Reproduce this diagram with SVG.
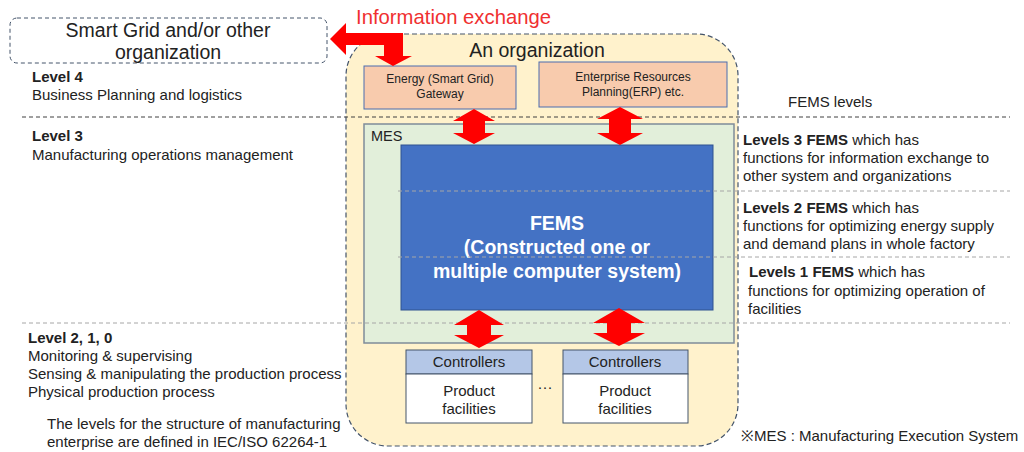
<svg xmlns="http://www.w3.org/2000/svg" width="1024" height="452" viewBox="0 0 1024 452">
  <style>
    text { font-family: "Liberation Sans", Arial, sans-serif; fill: #222; }
    .b { font-weight: bold; }
    .lvl { font-size: 15px; }
    .sep { fill: none; stroke-width: 1; stroke-dasharray: 4 3; }
    .red { fill: #ff0000; stroke: none; }
    .small { font-size: 12px; }
    .ctl { font-size: 15px; }
  </style>

  <!-- external party -->
  <g id="smart-grid">
    <rect x="10" y="18" width="317" height="45" rx="7" fill="#ffffff" stroke="#44546a" stroke-width="1" stroke-dasharray="4 3"/>
    <text x="168" y="37" font-size="19.5" text-anchor="middle">Smart Grid and/or other</text>
    <text x="168" y="59" font-size="19.5" text-anchor="middle">organization</text>
  </g>

  <!-- organization boundary -->
  <g id="organization">
    <rect x="346" y="34" width="392" height="412" rx="42" fill="#fff2cc" stroke="#44546a" stroke-width="1.2" stroke-dasharray="5 3"/>
    <text x="537" y="57" font-size="19.5" text-anchor="middle">An organization</text>
  </g>

  <g id="gateway">
    <rect x="364" y="66" width="152" height="43" fill="#f8cbad" stroke="#4a6db0" stroke-width="1"/>
    <text x="440" y="83" class="small" text-anchor="middle">Energy (Smart Grid)</text>
    <text x="440" y="98" class="small" text-anchor="middle">Gateway</text>
  </g>

  <g id="erp">
    <rect x="539" y="62" width="188" height="45" fill="#f8cbad" stroke="#4a6db0" stroke-width="1"/>
    <text x="633" y="81" class="small" text-anchor="middle">Enterprise Resources</text>
    <text x="633" y="96" class="small" text-anchor="middle">Planning(ERP) etc.</text>
  </g>

  <g id="mes">
    <rect x="364" y="124" width="370" height="219" fill="#e2efda" stroke="#7f8c99" stroke-width="1.5"/>
    <text x="371" y="141" font-size="14.5">MES</text>
  </g>

  <g id="fems">
    <rect x="401" y="145" width="312" height="165" fill="#4472c4" stroke="#2f528f" stroke-width="1"/>
    <text x="557" y="230" font-size="19.5" class="b" text-anchor="middle" style="fill:#ffffff">FEMS</text>
    <text x="557" y="254" font-size="19.5" class="b" text-anchor="middle" style="fill:#ffffff">(Constructed one or</text>
    <text x="557" y="278" font-size="19.5" class="b" text-anchor="middle" style="fill:#ffffff">multiple computer system)</text>
  </g>

  <g id="controllers-1">
    <rect x="406" y="350" width="126" height="24" fill="#b4c7e7" stroke="#44546a" stroke-width="1"/>
    <rect x="406" y="374" width="126" height="49" fill="#ffffff" stroke="#44546a" stroke-width="1"/>
    <text x="469" y="367" class="ctl" text-anchor="middle">Controllers</text>
    <text x="469" y="396" class="ctl" text-anchor="middle">Product</text>
    <text x="469" y="414" class="ctl" text-anchor="middle">facilities</text>
  </g>

  <g id="controllers-2">
    <rect x="563" y="350" width="125" height="24" fill="#b4c7e7" stroke="#44546a" stroke-width="1"/>
    <rect x="563" y="374" width="125" height="49" fill="#ffffff" stroke="#44546a" stroke-width="1"/>
    <text x="625" y="367" class="ctl" text-anchor="middle">Controllers</text>
    <text x="625" y="396" class="ctl" text-anchor="middle">Product</text>
    <text x="625" y="414" class="ctl" text-anchor="middle">facilities</text>
  </g>

  <g id="ellipsis">
    <text x="545" y="392" font-size="15" text-anchor="middle">···</text>
  </g>

  <!-- level separators -->
  <g id="separators">
    <line x1="22" y1="117" x2="1010" y2="117" class="sep" stroke="#404040"/>
    <line x1="398" y1="191" x2="1010" y2="191" class="sep" stroke="#a6a6a6"/>
    <line x1="398" y1="257" x2="1010" y2="257" class="sep" stroke="#a6a6a6"/>
    <line x1="22" y1="323" x2="1010" y2="323" class="sep" stroke="#a6a6a6"/>
  </g>

  <!-- information flows -->
  <g id="connectors">
    <polygon class="red" points="330,39 346,23 346,33 403,33 403,56 412,56 393,66 375,56 384,56 384,45 346,45 346,55"/>
    <polygon class="red" points="474,109 495,121 485,121 485,133 495,133 474,144 453,133 463,133 463,121 453,121"/>
    <polygon class="red" points="620,107 643,119 631,119 631,133 643,133 620,145 597,133 609,133 609,119 597,119"/>
    <polygon class="red" points="479,310 504,325 491,325 491,335 504,335 479,348 454,335 467,335 467,325 454,325"/>
    <polygon class="red" points="619,308 645,323 631,323 631,333 645,333 619,346 593,333 607,333 607,323 593,323"/>
  </g>

  <text x="356" y="24" font-size="20.3" style="fill:#f03030">Information exchange</text>

  <!-- enterprise levels -->
  <g id="levels-left">
    <text x="32" y="82" class="lvl b">Level 4</text>
    <text x="32" y="100" class="lvl">Business Planning and logistics</text>
    <text x="32" y="141" class="lvl b">Level 3</text>
    <text x="32" y="160" class="lvl">Manufacturing operations management</text>
    <text x="28" y="343" class="lvl b">Level 2, 1, 0</text>
    <text x="28" y="361" class="lvl">Monitoring &amp; supervising</text>
    <text x="28" y="379" class="lvl">Sensing &amp; manipulating the production process</text>
    <text x="28" y="397" class="lvl">Physical production process</text>
    <text x="47" y="429" class="lvl">The levels for the structure of manufacturing</text>
    <text x="47" y="447" class="lvl">enterprise are defined in IEC/ISO 62264-1</text>
  </g>

  <!-- FEMS levels -->
  <g id="levels-right">
    <text x="788" y="107" class="lvl">FEMS levels</text>
    <text x="743" y="145" class="lvl"><tspan class="b">Levels 3 FEMS</tspan> which has</text>
    <text x="743" y="163" class="lvl">functions for information exchange to</text>
    <text x="743" y="181" class="lvl">other system and organizations</text>
    <text x="743" y="213" class="lvl"><tspan class="b">Levels 2 FEMS</tspan> which has</text>
    <text x="743" y="231" class="lvl">functions for optimizing energy supply</text>
    <text x="743" y="249" class="lvl">and demand plans in whole factory</text>
    <text x="749" y="277" class="lvl"><tspan class="b">Levels 1 FEMS</tspan> which has</text>
    <text x="748" y="296" class="lvl">functions for optimizing operation of</text>
    <text x="748" y="314" class="lvl">facilities</text>
    <text x="741" y="441" class="lvl">※MES : Manufacturing Execution System</text>
  </g>
</svg>
